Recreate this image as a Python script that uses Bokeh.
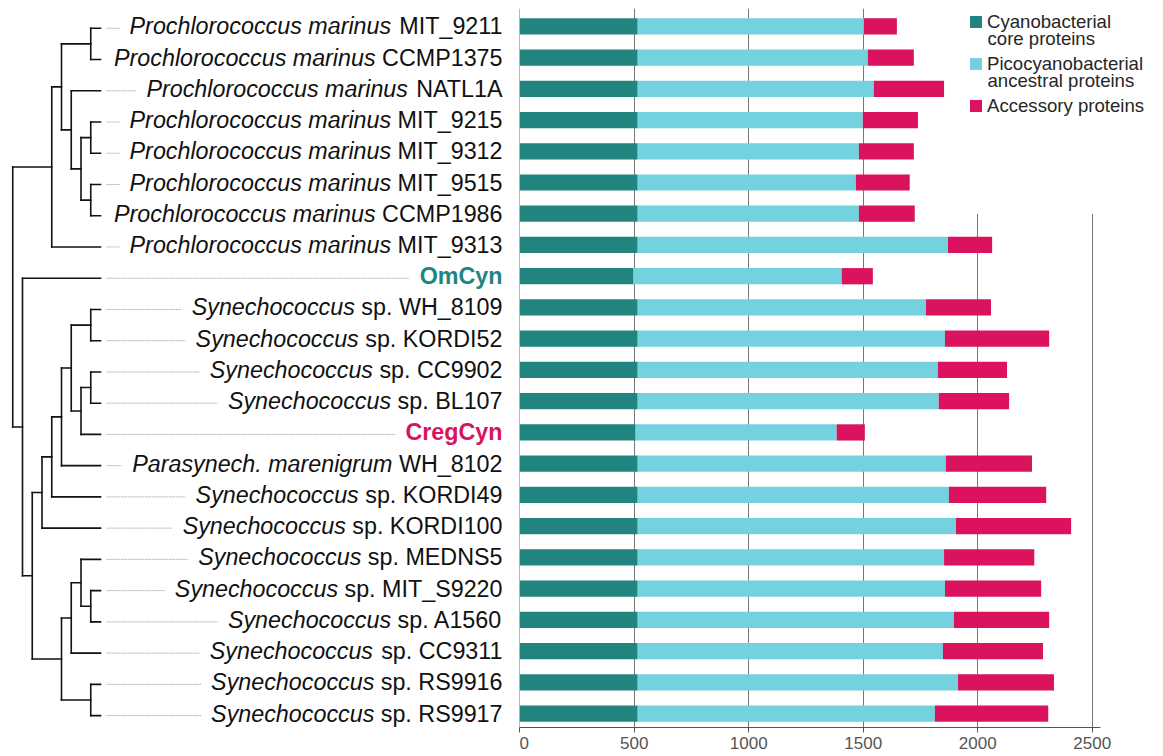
from bokeh.plotting import figure
from bokeh.models import (Range1d, ColumnDataSource, Legend, LegendItem,
                          FixedTicker, BoxAnnotation, Label)
from bokeh.layouts import row
from bokeh.embed import file_html
from bokeh.resources import INLINE
from bokeh.core.properties import value

# ---------------- data ----------------
italic_part = [
    "Prochlorococcus marinus", "Prochlorococcus marinus", "Prochlorococcus marinus",
    "Prochlorococcus marinus", "Prochlorococcus marinus", "Prochlorococcus marinus",
    "Prochlorococcus marinus", "Prochlorococcus marinus", "",
    "Synechococcus", "Synechococcus", "Synechococcus", "Synechococcus", "",
    "Parasynech. marenigrum", "Synechococcus", "Synechococcus", "Synechococcus",
    "Synechococcus", "Synechococcus", "Synechococcus", "Synechococcus", "Synechococcus",
]
plain_part = [
    "MIT_9211", "CCMP1375", "NATL1A", "MIT_9215", "MIT_9312", "MIT_9515",
    "CCMP1986", "MIT_9313", "OmCyn", "sp. WH_8109", "sp. KORDI52", "sp. CC9902",
    "sp. BL107", "CregCyn", "WH_8102", "sp. KORDI49", "sp. KORDI100", "sp. MEDNS5",
    "sp. MIT_S9220", "sp. A1560", "sp. CC9311", "sp. RS9916", "sp. RS9917",
]
highlight = {8: "#21847f", 13: "#db125d"}   # bold coloured labels

core = [515, 515, 515, 515, 515, 515, 515, 515, 497, 515, 515, 515,
        515, 506, 515, 515, 515, 515, 515, 515, 515, 515, 515]
ancestral = [988, 1005, 1031, 983, 966, 953, 966, 1355, 909, 1259, 1342, 1311,
             1315, 878, 1346, 1359, 1390, 1338, 1342, 1381, 1333, 1399, 1298]
accessory = [144, 201, 307, 241, 240, 235, 244, 193, 136, 284, 455, 302,
             307, 123, 376, 425, 503, 394, 420, 416, 437, 419, 495]

series_first_line = ["Cyanobacterial", "Picocyanobacterial", "Accessory proteins"]
series_second_line = ["core proteins", "ancestral proteins", ""]
series_colors = ["#21847f", "#74d1df", "#db125d"]
x_ticks = [0, 500, 1000, 1500, 2000, 2500]

# tree topology (leaf = row index)
clade_pro = (((0, 1), (2, ((3, 4), (5, 6)))), 7)
clade_h = ((9, 10), ((11, 12), 13))
clade_d = (((clade_h, 14), 15), 16)
clade_e = (((17, (18, 19)), 20), (21, 22))
tree = (clade_pro, (8, (clade_d, clade_e)))

# ---------------- helpers ----------------
FONT = "Liberation Sans"
LABEL_SIZE = 23.3
W_REG = {' ': 278, '.': 278, '_': 556}
for ch in "0123456789":
    W_REG[ch] = 556
W_REG.update(dict(zip("ABCDEFGHIJKLMNOPQRSTUVWXYZ",
    [667, 667, 722, 722, 667, 611, 778, 722, 278, 500, 667, 556, 833, 722, 778,
     667, 778, 722, 667, 611, 722, 667, 944, 667, 667, 611])))
W_REG.update(dict(zip("abcdefghijklmnopqrstuvwxyz",
    [556, 556, 500, 556, 556, 278, 556, 556, 222, 222, 500, 222, 833, 556, 556,
     556, 556, 333, 500, 278, 556, 500, 722, 500, 500, 500])))
W_BOLD = {'O': 778, 'm': 889, 'C': 722, 'y': 556, 'n': 611, 'r': 389, 'e': 556, 'g': 611}


def text_w(s, table):
    return sum(table.get(c, 556) for c in s) * LABEL_SIZE / 1000.0


# shared vertical frame geometry (page px)
TOP = 8
FRAME_H = 719
ROW0, ROWSTEP = 25.8, 31.24


def rows_range():
    return Range1d((TOP + FRAME_H - ROW0) / ROWSTEP, (TOP - ROW0) / ROWSTEP)


# ---------------- tree + labels figure ----------------
TIP_X = 100.0
STEP = 9.75
TIP_DY = 2.0 / ROWSTEP      # branch tips sit slightly below the label centre
LABEL_RIGHT = 502.0
T_W = 519

t = figure(frame_width=T_W, frame_height=FRAME_H,
           x_range=Range1d(0, T_W), y_range=rows_range(),
           x_axis_location=None, y_axis_location=None, toolbar_location=None,
           output_backend="svg", min_border=0, min_border_top=TOP,
           outline_line_color=None)
t.grid.visible = False


def height(n):
    return 0 if isinstance(n, int) else 1 + max(height(c) for c in n)


segs = {"x0": [], "y0": [], "x1": [], "y1": []}


def add_seg(x0, y0, x1, y1):
    segs["x0"].append(x0); segs["y0"].append(y0)
    segs["x1"].append(x1); segs["y1"].append(y1)


def lay(n):
    if isinstance(n, int):
        return TIP_X, n + TIP_DY
    pts = [lay(c) for c in n]
    x = TIP_X - height(n) * STEP
    ys = [q[1] for q in pts]
    for cx, cy in pts:
        add_seg(x, cy, cx, cy)
    add_seg(x, min(ys), x, max(ys))
    return x, (min(ys) + max(ys)) / 2.0


lay(tree)
t.segment("x0", "y0", "x1", "y1", source=ColumnDataSource(segs),
          line_color="#111111", line_width=1.6, line_cap="square")

lead = {"x0": [], "x1": [], "y": []}
it = {"x": [], "y": [], "text": []}
pl = {"x": [], "y": [], "text": []}
bd = {"x": [], "y": [], "text": [], "color": []}
for i, (ip, pp) in enumerate(zip(italic_part, plain_part)):
    if i in highlight:
        start = LABEL_RIGHT - text_w(pp, W_BOLD)
        bd["x"].append(LABEL_RIGHT); bd["y"].append(i)
        bd["text"].append(pp); bd["color"].append(highlight[i])
    else:
        wp = text_w(pp, W_REG)
        pl["x"].append(LABEL_RIGHT); pl["y"].append(i); pl["text"].append(pp)
        xi = LABEL_RIGHT - wp - text_w(" ", W_REG)
        it["x"].append(xi); it["y"].append(i); it["text"].append(ip)
        start = xi - text_w(ip, W_REG)
    x0, x1 = TIP_X + 6, start - 10
    if x1 - x0 > 3:
        lead["x0"].append(x0); lead["x1"].append(x1); lead["y"].append(i + TIP_DY)

t.segment("x0", "y", "x1", "y", source=ColumnDataSource(lead),
          line_color="#9a9a9a", line_width=0.8, line_dash="2 1")
t.text("x", "y", "text", source=ColumnDataSource(it), text_align="right",
       text_baseline="middle", text_font=value(FONT), text_font_style="italic",
       text_font_size=f"{LABEL_SIZE}px", text_color="#111111")
t.text("x", "y", "text", source=ColumnDataSource(pl), text_align="right",
       text_baseline="middle", text_font=value(FONT),
       text_font_size=f"{LABEL_SIZE}px", text_color="#111111")
t.text("x", "y", "text", source=ColumnDataSource(bd), text_align="right",
       text_baseline="middle", text_font=value(FONT), text_font_style="bold",
       text_font_size=f"{LABEL_SIZE}px", text_color="color")

# ---------------- bar figure ----------------
FRAME_W = 644
PX_PER_UNIT = 0.22896
X0_PAGE = 519.3
x_lo = (T_W - X0_PAGE) / PX_PER_UNIT
x_hi = (T_W + FRAME_W - X0_PAGE) / PX_PER_UNIT

p = figure(frame_width=FRAME_W, frame_height=FRAME_H,
           x_range=Range1d(x_lo, x_hi), y_range=rows_range(),
           y_axis_location=None, toolbar_location=None, output_backend="svg",
           min_border=0, min_border_top=TOP, outline_line_color=None)

src = ColumnDataSource(dict(row=list(range(len(core))), core=core,
                            ancestral=ancestral, accessory=accessory))

ticker = FixedTicker(ticks=x_ticks)
p.xgrid.ticker = ticker
p.xgrid.grid_line_color = "#777777"
p.xgrid.grid_line_width = 1
p.ygrid.visible = False

# white area behind the legend that hides the upper grid lines
p.add_layout(BoxAnnotation(left=1900, bottom=6.0, fill_color="white",
                           fill_alpha=1.0, line_color=None))

rs = p.hbar_stack(["core", "ancestral", "accessory"], y="row", height=0.52,
                  color=series_colors, line_color=None, source=src)

ax = p.xaxis[0]
ax.ticker = ticker
ax.bounds = (0, 2536)
ax.axis_line_color = "#555555"
ax.axis_line_width = 1.2
ax.major_tick_line_color = "#555555"
ax.major_tick_out = 5
ax.major_tick_in = 0
ax.minor_tick_line_color = None
ax.major_label_text_font = FONT
ax.major_label_text_font_size = "17px"
ax.major_label_text_color = "#555555"
ax.major_label_standoff = 4

LEG_FONT = "18.6px"
LEG_COLOR = "#262626"
LEG_X = 449          # px from frame left
LEG_BOTTOM = 116.5   # page px of the legend's lower edge
legend = Legend(items=[LegendItem(label=n, renderers=[r]) for n, r in zip(series_first_line, rs)],
                location=(LEG_X, TOP + FRAME_H - LEG_BOTTOM), margin=0, padding=0, spacing=20,
                glyph_width=15, glyph_height=15, label_standoff=4, label_height=22,
                label_text_font=FONT, label_text_font_size=LEG_FONT,
                label_text_color=LEG_COLOR,
                background_fill_alpha=0.0, border_line_color=None)
p.add_layout(legend)

# second lines of the two-line legend labels
for txt, base_y in zip(series_second_line, [38.0, 79.8, None]):
    if txt:
        p.add_layout(Label(x=LEG_X + 19, y=TOP + FRAME_H - base_y, x_units="screen",
                           y_units="screen", text=txt, text_font=FONT,
                           text_font_size=LEG_FONT, text_color=LEG_COLOR,
                           text_baseline="alphabetic"))

layout = row(t, p)
open("out.html", "w").write(file_html(layout, INLINE))
